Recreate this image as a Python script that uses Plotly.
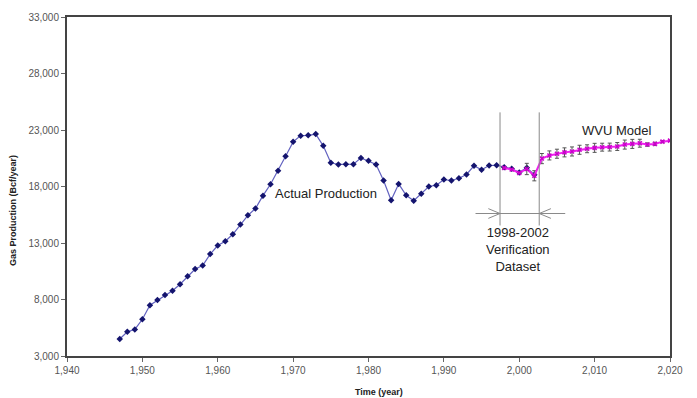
import plotly.graph_objects as go

# Historical gas production (Bcf/year)
actual_years = list(range(1947, 2003))
actual_values = [
    4500, 5150, 5350, 6250, 7500, 7950, 8400, 8780, 9350, 10050,
    10700, 11000, 12020, 12780, 13150, 13770, 14640, 15450, 16050, 17190,
    18200, 19400, 20670, 21950, 22500, 22530, 22640, 21600, 20100, 19950,
    19970, 19970, 20530, 20270, 19950, 18530, 16790, 18230, 17220, 16750,
    17360, 18000, 18120, 18610, 18530, 18730, 19070, 19830, 19480, 19860,
    19880, 19700, 19560, 19250, 19650, 19050,
]

# WVU model output with uncertainty
model_years = list(range(1998, 2021))
model_values = [
    19650, 19500, 19200, 19550, 18950, 20470, 20750, 20900, 21020, 21100,
    21250, 21340, 21420, 21480, 21490, 21540, 21710, 21770, 21830, 21710,
    21770, 21970, 22060,
]
model_err = [
    0, 0, 0, 500, 450, 450, 400, 400, 400, 400,
    400, 350, 400, 350, 350, 350, 400, 400, 350, 150,
    150, 100, 0,
]

x_ticks = list(range(1940, 2021, 10))
y_ticks = list(range(3000, 33001, 5000))

fig = go.Figure()

fig.add_trace(go.Scatter(
    x=actual_years, y=actual_values, mode="lines+markers",
    line=dict(color="#6262c0", width=1.2),
    marker=dict(symbol="diamond", size=5, color="#14146e"),
    showlegend=False,
))

fig.add_trace(go.Scatter(
    x=model_years, y=model_values, mode="lines+markers",
    line=dict(color="#ee22ee", width=2),
    marker=dict(symbol="x-thin", size=4, color="#cc00cc",
                line=dict(color="#cc00cc", width=1.5)),
    error_y=dict(type="data", array=model_err, visible=True,
                 color="#555555", thickness=1, width=2),
    showlegend=False,
))

grey = "#8a8a8a"
# Verification window markers
for xv in (1997.45, 2002.65):
    fig.add_shape(type="line", x0=xv, x1=xv, y0=14550, y1=24560,
                  line=dict(color=grey, width=1))
fig.add_shape(type="line", x0=1994.2, x1=2006.1, y0=15610, y1=15610,
              line=dict(color=grey, width=1))
# open arrow heads pointing at the window edges
for tip, back in ((1997.45, 1995.9), (2002.65, 2004.2)):
    for yy in (16040, 15180):
        fig.add_shape(type="line", x0=back, x1=tip, y0=yy, y1=15610,
                      line=dict(color=grey, width=1))

lab_font = dict(family="Liberation Sans, Arial", size=13, color="#222222")
fig.add_annotation(x=1974.4, y=17350, text="Actual Production", showarrow=False,
                   font=lab_font, xanchor="center", yanchor="middle")
fig.add_annotation(x=2012.9, y=23000, text="WVU Model", showarrow=False,
                   font=lab_font, xanchor="center", yanchor="middle")
fig.add_annotation(x=1999.8, y=12400,
                   text="1998-2002<br>Verification<br>Dataset",
                   showarrow=False, font=lab_font, xanchor="center",
                   yanchor="middle")

title_font = dict(family="Liberation Sans, Arial", size=9, color="#222222")
fig.add_annotation(xref="paper", yref="paper", x=0.518, y=-0.085,
                   text="<b>Time (year)</b>", showarrow=False,
                   font=title_font, xanchor="center", yanchor="top")
fig.add_annotation(xref="paper", yref="paper", x=-0.09, y=0.43,
                   text="<b>Gas Production (Bcf/year)</b>", showarrow=False,
                   font=title_font, textangle=-90, xanchor="center",
                   yanchor="middle")

tick_font = dict(family="Liberation Sans, Arial", size=10, color="#555555")
fig.update_xaxes(range=[1940, 2020], tickvals=x_ticks, tickformat=",",
                 showgrid=False, zeroline=False, showline=True, mirror=True,
                 linecolor="#444444", linewidth=2, ticks="outside",
                 ticklen=4, tickcolor="#666666", tickfont=tick_font)
fig.update_yaxes(range=[3000, 33000], tickvals=y_ticks, tickformat=",",
                 showgrid=False, zeroline=False, showline=True, mirror=True,
                 linecolor="#444444", linewidth=2, ticks="outside",
                 ticklen=4, tickcolor="#666666", tickfont=tick_font)

fig.update_layout(
    width=697, height=398,
    margin=dict(l=67, r=27, t=11, b=42),
    paper_bgcolor="white", plot_bgcolor="white",
)

fig.write_html("out.html")
